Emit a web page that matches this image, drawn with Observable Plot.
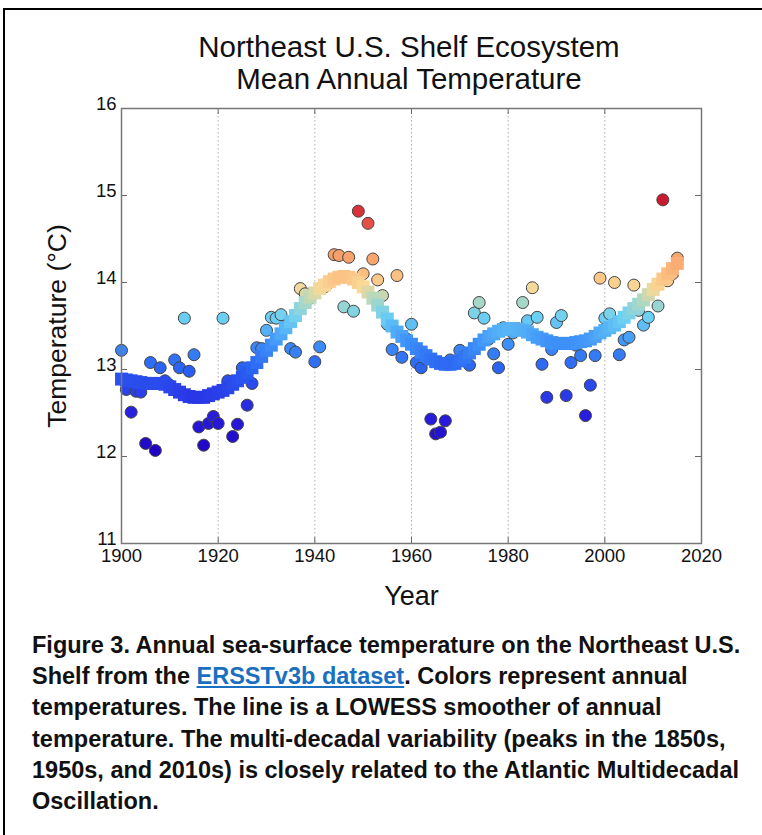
<!DOCTYPE html>
<html>
<head>
<meta charset="utf-8">
<script src="https://cdn.jsdelivr.net/npm/d3@7"></script>
<script src="https://cdn.jsdelivr.net/npm/@observablehq/plot@0.6"></script>
<style>
  html, body { margin: 0; padding: 0; background: #fff; overflow: hidden; width: 762px; height: 835px; }
  #frame { position: absolute; left: 3px; top: 8px; width: 900px; height: 1000px; border: 2px solid #000; box-sizing: border-box; }
  #title { position: absolute; left: 109px; top: 31px; width: 600px; text-align: center;
           font-family: "Liberation Sans", Arial, sans-serif; font-size: 29.5px; line-height: 32px; color: #111; }
  #chart { position: absolute; left: 0; top: 100px; }
  #caption { position: absolute; left: 32px; top: 630px; white-space: nowrap;
             font-family: "Liberation Sans", Arial, sans-serif; font-weight: bold; font-size: 23.5px; line-height: 31.2px; color: #111; }
  #caption a { color: #1a6fc0; text-decoration: underline; }
</style>
</head>
<body>
<div id="frame"></div>
<div id="title">Northeast U.S. Shelf Ecosystem<br>Mean Annual Temperature</div>
<div id="chart"></div>
<div id="caption">Figure 3. Annual sea-surface temperature on the Northeast U.S.<br>Shelf from the <a href="#">ERSSTv3b dataset</a>. Colors represent annual<br>temperatures. The line is a LOWESS smoother of annual<br>temperature. The multi-decadal variability (peaks in the 1850s,<br>1950s, and 2010s) is closely related to the Atlantic Multidecadal<br>Oscillation.</div>
<script>
const years = d3.range(1900, 2016);
const annualTemp = [
  13.22, 12.77, 12.51, 12.75, 12.74, 12.15, 13.08, 12.07, 13.02, 12.87,
  12.82, 13.11, 13.02, 13.59, 12.98, 13.17, 12.34, 12.13, 12.38, 12.46,
  12.38, 13.59, 12.87, 12.23, 12.37, 13.02, 12.59, 12.84, 13.25, 13.24,
  13.45, 13.60, 13.59, 13.63, 13.50, 13.24, 13.20, 13.93, 13.87, 13.82,
  13.09, 13.26, 13.95, 14.00, 14.32, 14.31, 13.72, 14.29, 13.67, 14.82,
  14.10, 14.68, 14.27, 14.03, 13.85, 13.52, 13.23, 14.08, 13.14, 13.35,
  13.52, 13.08, 13.02, 13.12, 12.43, 12.26, 12.28, 12.41, 13.11, 13.08,
  13.22, 13.15, 13.05, 13.65, 13.77, 13.59, 13.35, 13.18, 13.02, 13.48,
  13.29, 13.42, 13.47, 13.77, 13.56, 13.94, 13.60, 13.06, 12.68, 13.23,
  13.54, 13.62, 12.70, 13.08, 13.28, 13.16, 12.47, 12.82, 13.16, 14.05,
  13.59, 13.64, 14.00, 13.17, 13.34, 13.37, 13.97, 13.68, 13.51, 13.60,
  13.92, 13.73, 14.95, 14.02, 14.10, 14.28
];
const lowessTemp = [
  12.89, 12.88, 12.87, 12.86, 12.85, 12.84, 12.84, 12.84, 12.84, 12.83,
  12.80, 12.77, 12.74, 12.71, 12.69, 12.68, 12.68, 12.68, 12.70, 12.72,
  12.74, 12.76, 12.79, 12.83, 12.87, 12.91, 12.96, 13.02, 13.08, 13.15,
  13.22, 13.28, 13.35, 13.41, 13.48, 13.55, 13.62, 13.70, 13.77, 13.83,
  13.88, 13.93, 13.97, 14.01, 14.04, 14.06, 14.07, 14.06, 14.04, 14.00,
  13.95, 13.89, 13.82, 13.74, 13.66, 13.58, 13.50, 13.43, 13.38, 13.33,
  13.29, 13.24, 13.20, 13.16, 13.12, 13.09, 13.07, 13.06, 13.06, 13.07,
  13.10, 13.14, 13.19, 13.24, 13.29, 13.34, 13.38, 13.41, 13.44, 13.46,
  13.47, 13.47, 13.46, 13.45, 13.43, 13.40, 13.37, 13.35, 13.33, 13.31,
  13.30, 13.30, 13.30, 13.30, 13.31, 13.32, 13.33, 13.35, 13.38, 13.42,
  13.45, 13.48, 13.51, 13.55, 13.60, 13.65, 13.70, 13.75, 13.80, 13.86,
  13.92, 13.98, 14.04, 14.10, 14.16, 14.22
];
const xTicks = [1900, 1920, 1940, 1960, 1980, 2000, 2020];
const yTicks = [11, 12, 13, 14, 15, 16];
const colorStops = [12.0, 12.5, 13.0, 13.3, 13.6, 13.8, 13.95, 14.1, 14.35, 14.7, 15.0];
const colorRange = ["#1e00c0", "#2a20e0", "#2a60f2", "#3d90f8", "#6cd0f4", "#b0d8c0",
                    "#fad996", "#fbbd80", "#f79a68", "#e64b45", "#c4102a"];
const xLabel = ["Year"];
const yLabel = ["Temperature (°C)"];

const points = years.map((year, i) => ({year, temp: annualTemp[i]}));
const smooth = years.map((year, i) => ({year, temp: lowessTemp[i]}));

const W = 762, H = 520, mL = 121, mR = 61, mT = 8, mB = 77;
const innerW = W - mL - mR, innerH = H - mT - mB, tick = 6;

const chart = Plot.plot({
  width: W, height: H,
  marginLeft: mL, marginRight: mR, marginTop: mT, marginBottom: mB,
  x: {domain: [1900, 2020]},
  y: {domain: [11, 16]},
  color: {type: "linear", domain: colorStops, range: colorRange, interpolate: "rgb"},
  style: {fontFamily: "'Liberation Sans', Arial, sans-serif", fontSize: "18.5px", color: "#111", background: "transparent", overflow: "visible"},
  marks: [
    Plot.gridX(xTicks.slice(1, -1), {stroke: "#b0b0b0", strokeOpacity: 1, strokeDasharray: "1.5,2.5"}),
    Plot.dot(points, {x: "year", y: "temp", r: 6, fill: "temp", stroke: "#444", strokeWidth: 1}),
    Plot.dot(smooth, {x: "year", y: "temp", symbol: "square", r: 7.3, fill: "temp", stroke: null}),
    Plot.ruleX(xTicks, {insetBottom: innerH - tick, stroke: "#666"}),
    Plot.ruleX(xTicks, {insetTop: innerH - tick, stroke: "#666"}),
    Plot.ruleY(yTicks, {insetRight: innerW - tick, stroke: "#666"}),
    Plot.ruleY(yTicks, {insetLeft: innerW - tick, stroke: "#666"}),
    Plot.frame({stroke: "#777", strokeWidth: 1.5}),
    Plot.axisX(xTicks, {tickSize: 0, tickPadding: 5, tickFormat: d => String(d), label: null, fontSize: 18.5}),
    Plot.axisY(yTicks, {tickSize: 0, tickPadding: 5, tickFormat: d => String(d), label: null, fontSize: 18.5, dy: -4}),
    Plot.text(xLabel, {frameAnchor: "bottom", dy: 61, fontSize: 27, fill: "#111"}),
    Plot.text(yLabel, {frameAnchor: "left", textAnchor: "middle", dx: -64, rotate: -90, fontSize: 26.5, fill: "#111"})
  ]
});
document.getElementById("chart").appendChild(chart);
</script>
</body>
</html>
